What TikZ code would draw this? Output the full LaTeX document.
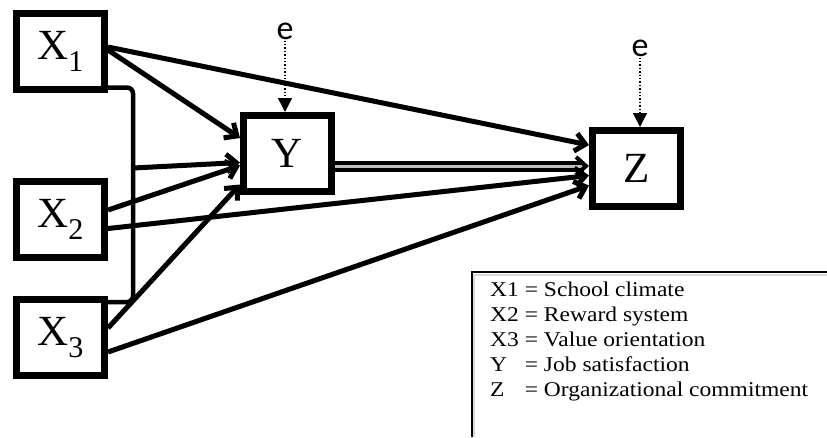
\documentclass[tikz,border=0pt]{standalone}
\usepackage{fontspec}
\setmainfont{Liberation Serif}
\newfontfamily\errfont{Carlito}
\usetikzlibrary{arrows.meta}

\begin{document}
\begin{tikzpicture}[x=1pt, y=-1pt, >={Straight Barb[length=10pt,width=18pt]},
  var/.style={draw, line width=7pt, minimum width=88pt, minimum height=76pt, inner sep=0pt,
    font=\fontsize{43}{43}\selectfont},
  link/.style={line width=5pt, preaction={draw=gray!35, transform canvas={shift={(1.5pt,-2pt)}}}},
  err/.style={font=\errfont\fontsize{34}{34}\selectfont, inner sep=1pt}]
\useasboundingbox (0,0) rectangle (827,437);
% variables
\node[var] (X1) at (60.5,51.5) {X\textsubscript{1}};
\node[var] (X2) at (60.5,219.5) {X\textsubscript{2}};
\node[var] (X3) at (60.5,337.5) {X\textsubscript{3}};
\node[var] (Y) at (287.5,153.5) {Y};
\node[var] (Z) at (636.5,168.5) {Z};
% error terms
\node[err] (eY) at (285,31) {e};
\node[err] (eZ) at (640,48) {e};
\draw[dotted, line width=1.4pt, -{Triangle[length=14pt,width=14pt]}] (eY) -- (eY |- Y.north);
\draw[dotted, line width=1.4pt, -{Triangle[length=14pt,width=14pt]}] (eZ) -- (eZ |- Z.north);
% paths to Y
\coordinate (br) at (133,168);
\draw[link, line width=4.5pt, rounded corners=6pt] ([yshift=-36pt]X1.east) -| (br) |- ([yshift=35.5pt]X3.east);
\draw[link,->] ([yshift=1.5pt]X1.east) -- ([yshift=15.5pt]Y.west);
\draw[link,->] (br) -- ([yshift=-9pt]Y.west);
\draw[link,->] ([yshift=9.5pt]X2.east) -- ([yshift=-12pt]Y.west);
\draw[link,->] ([yshift=9.5pt]X3.east) -- ([yshift=-31pt]Y.west);
% paths to Z
\draw[link,->] ([yshift=4.5pt]X1.east) -- ([yshift=23.5pt]Z.west);
\draw[->, line width=4pt, double=gray!50, double distance=3pt] ([yshift=-12.5pt]Y.east) -- ([yshift=2.5pt]Z.west);
\draw[link,->] ([yshift=-9pt]X2.east) -- ([yshift=-7pt]Z.west);
\draw[link,->] ([yshift=-14.5pt]X3.east) -- ([yshift=-17pt]Z.west);
% key
\draw[line width=2.5pt, gray!30] (474,437) |- (827,275);
\draw[line width=1.5pt] (472,437) |- (827,272);
\node[anchor=north west, inner sep=0pt, xscale=1.12, font=\fontsize{21}{25}\selectfont] (key) at (490,279) {%
  \begin{tabular}{@{}l@{\ }l@{}}
  X1 & = School climate\\
  X2 & = Reward system\\
  X3 & = Value orientation\\
  Y & = Job satisfaction\\
  Z & = Organizational commitment
  \end{tabular}};
\end{tikzpicture}
\end{document}
